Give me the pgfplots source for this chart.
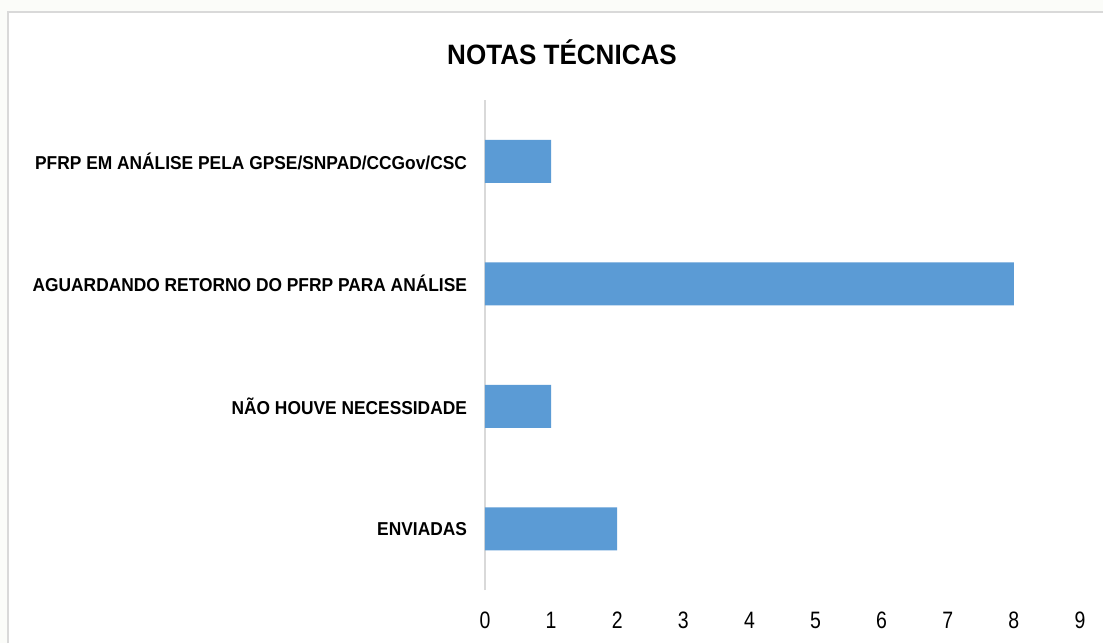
\documentclass[border=0pt]{standalone}
\usepackage{pgfplots}
\pgfplotsset{compat=1.18}
\usepackage{fontspec}
\setmainfont{Liberation Sans}
\newfontfamily\narrowfont{Liberation Sans}[FakeStretch=0.82]
\newfontfamily\labelfont{Liberation Sans}[FakeStretch=0.93]
\definecolor{barblue}{HTML}{5B9BD5}
\definecolor{framegray}{HTML}{D9D9D9}
\definecolor{axisgray}{HTML}{D9D9D9}
\definecolor{bgout}{HTML}{FBFCF9}

\begin{document}
\begin{tikzpicture}
% page area 1103 x 643 px, 1 px = 0.75pt
\begin{scope}[x=0.75pt,y=-0.75pt]
\fill[bgout] (0,0) rectangle (1103,643);
\useasboundingbox (0,0) rectangle (1103,643);
\fill[white] (8,11.5) rectangle (1103,643);
\draw[framegray,line width=1.5pt] (8,643) -- (8,11.5) -- (1103,11.5);
\node[font=\labelfont\bfseries\fontsize{21}{24}\selectfont] at (562,52) {NOTAS TÉCNICAS};
\end{scope}

\begin{axis}[
    at={(363.75pt,-442.5pt)}, anchor=south west,
    scale only axis,
    width=446.25pt, height=367.5pt,
    xbar, bar width=32.25pt,
    xmin=0, xmax=9, ymin=-0.5, ymax=3.5,
    axis y line*=left, axis x line*=bottom,
    x axis line style={draw=none},
    y axis line style={draw=axisgray, line width=1.2pt},
    xtick={0,1,...,9}, ytick={0,1,2,3},
    yticklabels={ENVIADAS,NÃO HOUVE NECESSIDADE,AGUARDANDO RETORNO DO PFRP PARA ANÁLISE,PFRP EM ANÁLISE PELA GPSE/SNPAD/CCGov/CSC},
    major tick length=0pt,
    /pgf/number format/assume math mode=true,
    xticklabel style={font=\narrowfont\fontsize{17.8}{20}\selectfont, yshift=-13pt},
    yticklabel style={font=\labelfont\bfseries\fontsize{14}{16}\selectfont, xshift=-10pt},
]
\addplot[draw=none, fill=barblue] coordinates {(2,0) (1,1) (8,2) (1,3)};
\end{axis}
\end{tikzpicture}
\end{document}
